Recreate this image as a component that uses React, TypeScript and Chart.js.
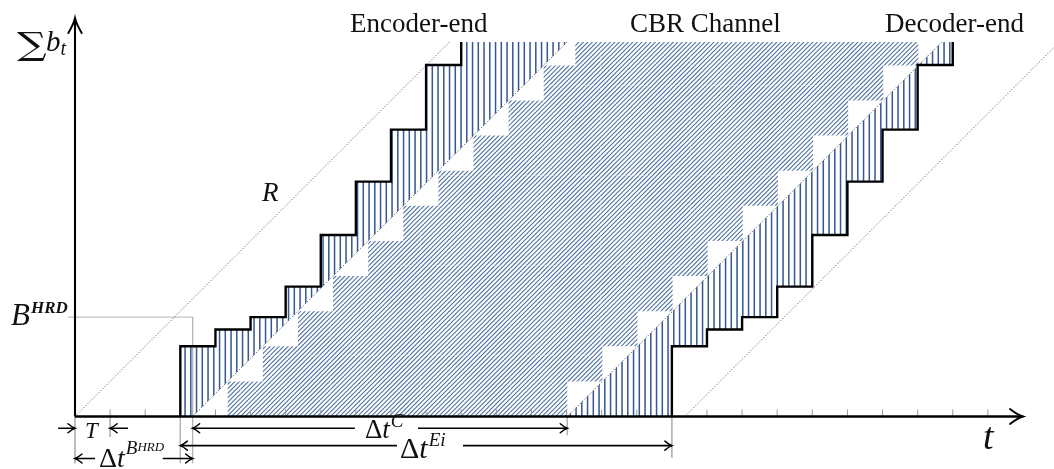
import React, { useEffect, useRef } from 'react';
import { Chart, registerables } from 'chart.js';

Chart.register(...registerables);

// ---------------- data (x in frame periods T, y in channel units R·T) ----------------
const encoderTimes = [3, 4, 5, 6, 7, 8, 9, 10, 11];
const encoderBits = [2.0, 2.48, 2.83, 3.7, 5.17, 6.69, 8.17, 10.01, 11.6];
const decoderTimes = [17, 18, 19, 20, 21, 22, 23, 24, 25];
const decoderBits = [2.0, 2.48, 2.83, 3.7, 5.17, 6.69, 8.17, 10.01, 11.6];
const channelSendTimes = [4.35, 5.35, 6.35, 7.35, 8.35, 9.35, 10.35, 11.35, 12.35, 13.35, 14.25];
const channelSendBits = [1, 2, 3, 4, 5, 6, 7, 8, 9, 10, 11];
const channelRecvTimes = [14.02, 15.02, 16.02, 17.02, 18.02, 19.02, 20.02, 21.02, 22.02, 23.02, 24.02];
const channelRecvBits = [1, 2, 3, 4, 5, 6, 7, 8, 9, 10, 11];
const tickPositions = [1, 2, 3, 4, 5, 6, 7, 8, 9, 10, 11, 12, 13, 14, 15, 16, 17, 18, 19, 20, 21, 22, 23, 24, 25, 26];

const DT_BHRD = 3.35; // channel start
const DT_C = 10.67; // channel delay
const DT_EI = 14; // encoder -> decoder delay
const B_HRD = 2.83;
const VIEW_TOP = 10.67;
const R2_START = 17.37;
const X_END = 27;
const Y_END = 11.35;

// scale bounds (full canvas)
const PX_PER_UNIT = 35.11;
const X_MIN = -75 / PX_PER_UNIT;
const X_MAX = (1054 - 75) / PX_PER_UNIT;
const Y_MIN = -(469 - 416.5) / PX_PER_UNIT;
const Y_MAX = 416.5 / PX_PER_UNIT;

type P = { x: number; y: number | null };

function withGaps(segs: P[][]): P[] {
  const out: P[] = [];
  segs.forEach((s) => {
    out.push(...s);
    out.push({ x: s[0].x, y: null });
  });
  return out;
}

function stairLine(times: number[], bits: number[]): P[] {
  const pts: P[] = [{ x: times[0], y: 0 }];
  for (let i = 0; i < times.length; i++) {
    pts.push({ x: times[i], y: Math.min(bits[i], VIEW_TOP) });
    if (bits[i] >= VIEW_TOP) break;
  }
  return pts;
}

function encoderPolygon(): P[] {
  const pts: P[] = [{ x: encoderTimes[0], y: 0 }];
  let lvl = 0;
  for (let i = 0; i < encoderTimes.length; i++) {
    const v = Math.min(encoderBits[i], VIEW_TOP);
    pts.push({ x: encoderTimes[i], y: lvl });
    pts.push({ x: encoderTimes[i], y: v });
    lvl = v;
    if (v >= VIEW_TOP) break;
  }
  pts.push({ x: DT_BHRD + VIEW_TOP, y: VIEW_TOP });
  pts.push({ x: DT_BHRD, y: 0 });
  return pts;
}

function decoderPolygon(): P[] {
  const start = DT_BHRD + DT_C;
  const pts: P[] = [{ x: start, y: 0 }, { x: start + VIEW_TOP, y: VIEW_TOP }];
  const k = decoderBits.findIndex((b) => b >= VIEW_TOP);
  pts.push({ x: decoderTimes[k], y: VIEW_TOP });
  for (let i = k - 1; i >= 0; i--) {
    pts.push({ x: decoderTimes[i + 1], y: decoderBits[i] });
    pts.push({ x: decoderTimes[i], y: decoderBits[i] });
  }
  pts.push({ x: decoderTimes[0], y: 0 });
  return pts;
}

function channelPolygon(): P[] {
  const pts: P[] = [{ x: channelSendTimes[0], y: 0 }];
  let lvl = 0;
  for (let i = 0; i < channelSendTimes.length; i++) {
    const v = Math.min(channelSendBits[i], VIEW_TOP);
    pts.push({ x: channelSendTimes[i], y: lvl });
    pts.push({ x: channelSendTimes[i], y: v });
    lvl = v;
    if (v >= VIEW_TOP) break;
  }
  const k = channelRecvBits.findIndex((b) => b >= VIEW_TOP);
  pts.push({ x: channelRecvTimes[k], y: VIEW_TOP });
  for (let i = k - 1; i >= 0; i--) {
    pts.push({ x: channelRecvTimes[i + 1], y: channelRecvBits[i] });
    pts.push({ x: channelRecvTimes[i], y: channelRecvBits[i] });
  }
  pts.push({ x: channelRecvTimes[0], y: 0 });
  return pts;
}

function makeVerticalHatch(): CanvasPattern | string {
  const c = document.createElement('canvas');
  c.width = 23;
  c.height = 4;
  const g = c.getContext('2d');
  if (!g) return '#6c86b0';
  g.fillStyle = '#34588f';
  [0.3, 6.05, 11.8, 17.55].forEach((x) => g.fillRect(x, 0, 1.5, 4));
  return g.createPattern(c, 'repeat') || '#6c86b0';
}

function makeDiagHatch(): CanvasPattern | string {
  const c = document.createElement('canvas');
  c.width = 90;
  c.height = 90;
  const g = c.getContext('2d');
  if (!g) return '#6c86b0';
  g.strokeStyle = '#4f72a3';
  g.lineWidth = 1.15;
  for (let cc = -9; cc <= 189; cc += 4.5) {
    g.beginPath();
    g.moveTo(cc + 10, -10);
    g.lineTo(cc - 100, 100);
    g.stroke();
  }
  g.strokeStyle = 'rgba(255,255,255,0.35)';
  g.lineWidth = 1;
  g.setLineDash([2, 2]);
  g.beginPath();
  g.moveTo(60.5, 0);
  g.lineTo(60.5, 90);
  g.moveTo(0, 85.5);
  g.lineTo(90, 85.5);
  g.stroke();
  return g.createPattern(c, 'repeat') || '#6c86b0';
}

function arrowHead(ctx: CanvasRenderingContext2D, tx: number, ty: number, dx: number, dy: number, L: number, W: number, lw: number) {
  const nx = -dy;
  const ny = dx;
  const bx = tx - dx * L;
  const by = ty - dy * L;
  ctx.lineWidth = lw;
  ctx.beginPath();
  ctx.moveTo(bx + nx * W, by + ny * W);
  ctx.quadraticCurveTo(tx - dx * L * 0.4 + nx * W * 0.2, ty - dy * L * 0.4 + ny * W * 0.2, tx, ty);
  ctx.quadraticCurveTo(tx - dx * L * 0.4 - nx * W * 0.2, ty - dy * L * 0.4 - ny * W * 0.2, bx - nx * W, by - ny * W);
  ctx.stroke();
}

type Run = { t: string; font: string; dy?: number; dx?: number };
function drawRuns(ctx: CanvasRenderingContext2D, x: number, y: number, runs: Run[]) {
  let cx = x;
  runs.forEach((r) => {
    ctx.font = r.font;
    cx += r.dx || 0;
    ctx.fillText(r.t, cx, y + (r.dy || 0));
    cx += ctx.measureText(r.t).width;
  });
}

const Y_T = -0.336;
const Y_EI = -0.83;
const Y_B = -1.196;

const overlayPlugin = {
  id: 'overlay',
  afterDatasetsDraw(chart: any) {
    const ctx: CanvasRenderingContext2D = chart.ctx;
    const sx = chart.scales.x;
    const sy = chart.scales.y;
    const px = (v: number) => sx.getPixelForValue(v);
    const py = (v: number) => sy.getPixelForValue(v);
    ctx.save();
    ctx.strokeStyle = '#000';
    ctx.lineCap = 'round';
    // axis heads
    arrowHead(ctx, px(0), py(Y_END), 0, -1, 15, 6.7, 1.9);
    arrowHead(ctx, px(X_END), py(0), 1, 0, 13, 7.5, 1.9);
    // dimension heads
    const h = (x: number, y: number, d: number) => arrowHead(ctx, px(x), py(y), d, 0, 7, 4.5, 1.5);
    h(0, Y_T, 1);
    h(1, Y_T, -1);
    h(DT_BHRD, Y_T, -1);
    h(DT_BHRD + DT_C, Y_T, 1);
    h(encoderTimes[0], Y_EI, -1);
    h(encoderTimes[0] + DT_EI, Y_EI, 1);
    h(0, Y_B, -1);
    h(DT_BHRD, Y_B, 1);

    // texts
    ctx.fillStyle = '#111';
    ctx.textBaseline = 'alphabetic';
    ctx.textAlign = 'left';
    const serif = '"Liberation Serif", "Times New Roman", serif';
    ctx.font = `27px ${serif}`;
    ctx.fillText('Encoder-end', 350, 32);
    ctx.fillText('CBR Channel', 630, 32);
    ctx.fillText('Decoder-end', 885, 32);

    ctx.save();
    ctx.translate(17, 55);
    ctx.scale(1.3, 1);
    ctx.font = '32px "DejaVu Serif", serif';
    ctx.fillText('\u2211', 0, 0);
    ctx.restore();
    drawRuns(ctx, 46, 51, [
      { t: 'b', font: `italic 29px ${serif}` },
      { t: 't', font: `italic 20px ${serif}`, dy: 4 },
    ]);

    ctx.font = `italic 27px ${serif}`;
    ctx.fillText('R', 262, 201);

    drawRuns(ctx, 11, 325, [
      { t: 'B', font: `italic 31px ${serif}` },
      { t: 'HRD', font: `italic bold 17px ${serif}`, dy: -12, dx: 1 },
    ]);

    ctx.font = `italic 23px ${serif}`;
    ctx.fillText('T', 85, 438);

    drawRuns(ctx, 99, 467, [
      { t: '\u0394', font: `28px ${serif}` },
      { t: 't', font: `italic 28px ${serif}` },
      { t: 'B', font: `italic 19px ${serif}`, dy: -13, dx: 1 },
      { t: 'HRD', font: `italic 13px ${serif}`, dy: -16 },
    ]);

    drawRuns(ctx, 365, 438, [
      { t: '\u0394', font: `27px ${serif}` },
      { t: 't', font: `italic 27px ${serif}` },
      { t: 'C', font: `italic 19px ${serif}`, dy: -11, dx: 1 },
    ]);

    drawRuns(ctx, 400, 458, [
      { t: '\u0394', font: `30px ${serif}` },
      { t: 't', font: `italic 30px ${serif}` },
      { t: 'Ei', font: `italic 19px ${serif}`, dy: -12, dx: 1 },
    ]);

    ctx.font = `italic 38px ${serif}`;
    ctx.fillText('t', 983, 449);
    ctx.restore();
  },
};

export default function App() {
  const ref = useRef<HTMLCanvasElement>(null);

  useEffect(() => {
    const canvas = ref.current;
    if (!canvas) return;
    const vHatch = makeVerticalHatch();
    const dHatch = makeDiagHatch();

    const line = (data: P[], color: string, width: number, extra: any = {}) => ({
      data,
      showLine: true,
      borderColor: color,
      borderWidth: width,
      pointRadius: 0,
      fill: false,
      tension: 0,
      ...extra,
    });

    const dotted = { borderDash: [1.2, 1.8] };
    const poly = (data: P[], bg: any) => ({
      data,
      showLine: true,
      borderColor: 'rgba(0,0,0,0)',
      borderWidth: 0,
      borderDash: [1, 0],
      pointRadius: 0,
      tension: 0,
      fill: 'shape',
      backgroundColor: bg,
    });

    const s0 = encoderTimes[0];
    const shafts: P[][] = [
      [{ x: -0.48, y: Y_T }, { x: 0, y: Y_T }],
      [{ x: 1.51, y: Y_T }, { x: 1, y: Y_T }],
      [{ x: DT_BHRD, y: Y_T }, { x: 7.97, y: Y_T }],
      [{ x: 9.77, y: Y_T }, { x: DT_BHRD + DT_C, y: Y_T }],
      [{ x: s0, y: Y_EI }, { x: 9.17, y: Y_EI }],
      [{ x: 11.05, y: Y_EI }, { x: s0 + DT_EI, y: Y_EI }],
      [{ x: 0, y: Y_B }, { x: 0.57, y: Y_B }],
      [{ x: 2.5, y: Y_B }, { x: DT_BHRD, y: Y_B }],
    ];

    const guides: P[][] = [
      [{ x: -0.2, y: B_HRD }, { x: DT_BHRD, y: B_HRD }, { x: DT_BHRD, y: -1.33 }],
      [{ x: 0, y: 0 }, { x: 0, y: -1.33 }],
      [{ x: 1, y: 0 }, { x: 1, y: -0.58 }],
      [{ x: s0, y: 0 }, { x: s0, y: -1.33 }],
      [{ x: DT_BHRD + DT_C, y: 0 }, { x: DT_BHRD + DT_C, y: -0.53 }],
      [{ x: s0 + DT_EI, y: 0 }, { x: s0 + DT_EI, y: -1.18 }],
    ];

    const ticks: P[][] = tickPositions.map((t) => [{ x: t, y: 0 }, { x: t, y: 0.2 }]);

    const datasets: any[] = [
      line(stairLine(encoderTimes, encoderBits), '#000', 2.4, { stepped: 'before' }),
      line(stairLine(decoderTimes, decoderBits), '#000', 2.4, { stepped: 'before' }),
      line([{ x: 0, y: 0 }, { x: X_END, y: 0 }], '#000', 2.4),
      line([{ x: 0, y: 0 }, { x: 0, y: Y_END }], '#000', 2.1),
      line(withGaps(shafts), '#000', 1.6),
      line([{ x: DT_BHRD, y: 0 }, { x: DT_BHRD + VIEW_TOP, y: VIEW_TOP }], '#555', 0.9, dotted),
      line([{ x: DT_BHRD + DT_C, y: 0 }, { x: DT_BHRD + DT_C + VIEW_TOP, y: VIEW_TOP }], '#555', 0.9, dotted),
      line([{ x: 0, y: 0 }, { x: VIEW_TOP, y: VIEW_TOP }], '#555', 0.9, dotted),
      line([{ x: R2_START, y: 0 }, { x: R2_START + VIEW_TOP, y: VIEW_TOP }], '#555', 0.9, dotted),
      line(withGaps(guides), '#b4b4b4', 1),
      line(withGaps(ticks), '#9a9a9a', 1),
      poly(encoderPolygon(), vHatch),
      poly(decoderPolygon(), vHatch),
      poly(channelPolygon(), dHatch),
    ];

    const chart = new Chart(canvas, {
      type: 'scatter',
      data: { datasets },
      options: {
        animation: false,
        responsive: false,
        events: [],
        layout: { padding: 0 },
        plugins: { legend: { display: false }, tooltip: { enabled: false } },
        scales: {
          x: { type: 'linear', min: X_MIN, max: X_MAX, display: false },
          y: { type: 'linear', min: Y_MIN, max: Y_MAX, display: false },
        },
      },
      plugins: [overlayPlugin],
    } as any);
    return () => chart.destroy();
  }, []);

  return (
    <div style={{ position: 'fixed', left: 0, top: 0, width: 1054, height: 469, background: '#fff' }}>
      <canvas ref={ref} width={1054} height={469} style={{ display: 'block', width: 1054, height: 469 }} />
    </div>
  );
}
